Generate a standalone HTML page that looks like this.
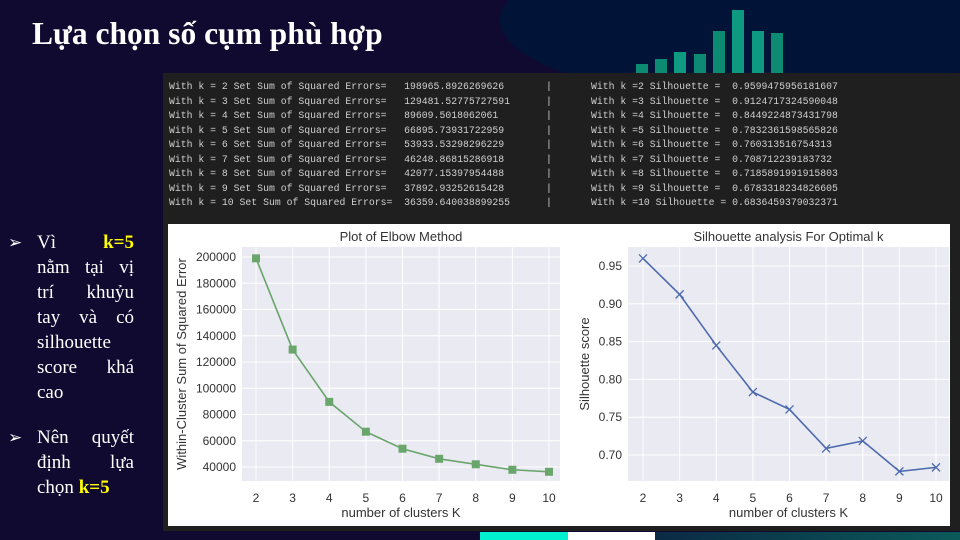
<!DOCTYPE html>
<html><head><meta charset="utf-8">
<style>
*{margin:0;padding:0;box-sizing:border-box}
body{width:960px;height:540px;overflow:hidden;background:#110a30;position:relative;font-family:"Liberation Sans",sans-serif}
#deco{position:absolute;left:0;top:0}
#title{position:absolute;left:32px;top:16px;color:#fff;font:bold 31.5px "Liberation Serif",serif;white-space:nowrap}
#console{position:absolute;left:163px;top:73px;width:797px;height:458px;background:#1f1f1f}
.ln{position:absolute;font:9.8px "Liberation Mono","DejaVu Sans Mono",monospace;color:#d0d0d0;white-space:pre}
#bul{position:absolute;left:0;top:0;color:#fff;font:19px "Liberation Serif",serif}
.l{position:absolute;left:37px;width:97px;display:flex;justify-content:space-between;white-space:nowrap;line-height:25px}
.ar{position:absolute;left:8px;font-size:17px;line-height:25px}
.y{color:#ffff00;font-weight:bold}
#card{position:absolute;left:168px;top:224px;width:782px;height:302px;background:#fff}
</style></head><body>
<svg id="deco" width="960" height="540">
<defs><linearGradient id="tg" x1="0" x2="1"><stop offset="0" stop-color="#0b2a44"/><stop offset="1" stop-color="#0b5a5a"/></linearGradient></defs>
<ellipse cx="760" cy="20" rx="260" ry="80" fill="#021338"/>
<rect x="636" y="64" width="12" height="10" fill="#0d8a72"/>
<rect x="655" y="59" width="12" height="15" fill="#0d8a72"/>
<rect x="674" y="52" width="12" height="22" fill="#0e9a80"/>
<rect x="694" y="54" width="12" height="20" fill="#0d8a72"/>
<rect x="713" y="31" width="12" height="43" fill="#0d8a72"/>
<rect x="732" y="10" width="12" height="64" fill="#0e9a80"/>
<rect x="752" y="31" width="12" height="43" fill="#0e9a80"/>
<rect x="771" y="33" width="12" height="41" fill="#0d8a72"/>
<rect x="480" y="532" width="88" height="8" fill="#00f0d0"/>
<rect x="568" y="532" width="87" height="8" fill="#ffffff"/>
<rect x="655" y="532" width="305" height="8" fill="url(#tg)"/>
</svg>
<div id="title">Lựa chọn số cụm phù hợp</div>
<div id="console"></div>
<div id="bul">
<div class="ar" style="top:230px">➢</div>
<div class="l" style="top:230px"><span>Vì</span><span class="y">k=5</span></div>
<div class="l" style="top:255px"><span>nằm</span><span>tại</span><span>vị</span></div>
<div class="l" style="top:280px"><span>trí</span><span>khuỷu</span></div>
<div class="l" style="top:305px"><span>tay</span><span>và</span><span>có</span></div>
<div class="l" style="top:330px"><span>silhouette</span></div>
<div class="l" style="top:355px"><span>score</span><span>khá</span></div>
<div class="l" style="top:380px"><span>cao</span></div>
<div class="ar" style="top:425px">➢</div>
<div class="l" style="top:425px"><span>Nên</span><span>quyết</span></div>
<div class="l" style="top:450px"><span>định</span><span>lựa</span></div>
<div class="l" style="top:475px"><span>chọn <span class="y">k=5</span></span></div>
</div>
<div id="card"></div>
<svg id="charts" width="960" height="540" style="position:absolute;left:0;top:0"></svg>
<script>
const ks=[2,3,4,5,6,7,8,9,10];
const sse=[198965.89,129481.53,89609.50,66895.74,53933.53,46248.87,42077.15,37892.93,36359.64];
const sil=[0.95995,0.91247,0.84492,0.78324,0.76031,0.70871,0.71859,0.67833,0.68365];
const sseTicks=[40000,60000,80000,100000,120000,140000,160000,180000,200000];
const silTicks=[0.70,0.75,0.80,0.85,0.90,0.95];
const sseRaw=["198965.8926269626","129481.52775727591","89609.5018062061","66895.73931722959","53933.53298296229","46248.86815286918","42077.15397954488","37892.93252615428","36359.640038899255"];
const silRaw=["0.9599475956181607","0.9124717324590048","0.8449224873431798","0.7832361598565826","0.760313516754313","0.708712239183732","0.7185891991915803","0.6783318234826605","0.6836459379032371"];

const con=document.getElementById('console');
ks.forEach((k,i)=>{
  const y=8+i*14.5;
  const a=document.createElement('div');a.className='ln';
  
  
  const lab=('With k = '+k+' Set Sum of Squared Errors=').padEnd(40,' ');
  a.textContent=lab+sseRaw[i];a.style.left='6px';a.style.top=y+'px';con.appendChild(a);
  const p=document.createElement('div');p.className='ln';
  
  
  p.textContent='|';p.style.left='383px';p.style.top=y+'px';con.appendChild(p);
  const b=document.createElement('div');b.className='ln';
  
  
  b.textContent=(k<10?'With k ='+k+' Silhouette =  ':'With k ='+k+' Silhouette = ')+silRaw[i];
  b.style.left='428px';b.style.top=y+'px';con.appendChild(b);
});

const svg=document.getElementById('charts');const NS='http://www.w3.org/2000/svg';
function mk(t,at,txt){const e=document.createElementNS(NS,t);for(const k in at)e.setAttribute(k,at[k]);if(txt!=null)e.textContent=txt;svg.appendChild(e);return e;}
function chart(o){
  const X=v=>o.x0+(v-2)/(8)*(o.x1-o.x0);
  const Y=v=>o.yA+(v-o.vA)/(o.vB-o.vA)*(o.yB-o.yA);
  let e=mk('rect',{x:o.L,y:247,width:o.R-o.L,height:234,fill:'#eaeaf2'});
  
  ks.forEach(k=>{e=mk('line',{x1:X(k),x2:X(k),y1:247,y2:481,stroke:'#fff','stroke-width':1});
    
    e=mk('text',{x:X(k),y:502,'text-anchor':'middle','font-size':12,fill:'#333'},k);
    });
  o.ticks.forEach(t=>{const y=Y(t);e=mk('line',{x1:o.L,x2:o.R,y1:y,y2:y,stroke:'#fff','stroke-width':1});
    
    e=mk('text',{x:o.L-6,y:y+4,'text-anchor':'end','font-size':12,fill:'#333'},o.fmt(t));
    });
  e=mk('polyline',{points:ks.map((k,i)=>X(k)+','+Y(o.vals[i])).join(' '),fill:'none',stroke:o.c,'stroke-width':1.6});
  
  ks.forEach((k,i)=>{const x=X(k),y=Y(o.vals[i]);
    if(o.m==='s'){e=mk('rect',{x:x-4,y:y-4,width:8,height:8,fill:o.c});}
    else{e=mk('path',{d:`M${x-4} ${y-4}L${x+4} ${y+4}M${x-4} ${y+4}L${x+4} ${y-4}`,stroke:o.c,'stroke-width':1.3});}
    });
  e=mk('text',{x:(o.L+o.R)/2,y:241,'text-anchor':'middle','font-size':13,fill:'#333'},o.title);
  
  e=mk('text',{x:(o.L+o.R)/2,y:517,'text-anchor':'middle','font-size':13,fill:'#333'},'number of clusters K');
  
  e=mk('text',{x:0,y:0,'text-anchor':'middle','font-size':13,fill:'#333',transform:`translate(${o.yt},364) rotate(-90)`},o.ylab);
  
}
chart({n:'elbow',L:242,R:560,x0:256,x1:549,yA:467,vA:40000,yB:257,vB:200000,vals:sse,ticks:sseTicks,fmt:t=>String(t),c:'#6aa56c',m:'s',title:'Plot of Elbow Method',ylab:'Within-Cluster Sum of Squared Error',yt:186});
chart({n:'silhouette',L:628,R:949,x0:643,x1:936,yA:455,vA:0.70,yB:266,vB:0.95,vals:sil,ticks:silTicks,fmt:t=>t.toFixed(2),c:'#4c6aad',m:'x',title:'Silhouette analysis For Optimal k',ylab:'Silhouette score',yt:589});
</script>
</body></html>
